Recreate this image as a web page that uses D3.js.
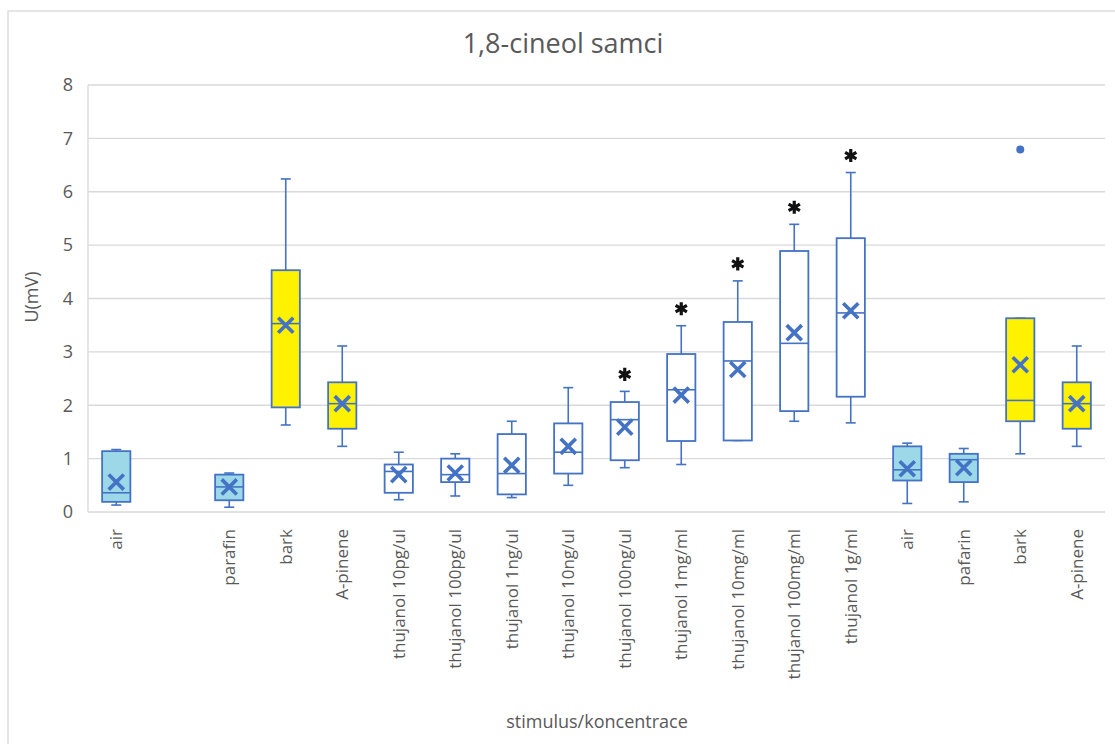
<!DOCTYPE html>
<html><head><meta charset="utf-8">
<script src="https://cdn.jsdelivr.net/npm/d3@7"></script>
<style>body{margin:0;background:#fff} svg{display:block}</style>
</head><body><svg id="chart" width="1115" height="744"></svg>
<script>
// ---- data ----
const titleText = "1,8-cineol samci";
const yAxisTitle = "U(mV)";
const xAxisTitle = "stimulus/koncentrace";
const categories = ["air", "", "parafin", "bark", "A-pinene",
  "thujanol 10pg/ul", "thujanol 100pg/ul", "thujanol 1ng/ul", "thujanol 10ng/ul", "thujanol 100ng/ul",
  "thujanol 1mg/ml", "thujanol 10mg/ml", "thujanol 100mg/ml", "thujanol 1g/ml",
  "air", "pafarin", "bark", "A-pinene"];
const groupType = ["control", "none", "control", "positive", "positive",
  "test", "test", "test", "test", "test", "test", "test", "test", "test",
  "control", "control", "positive", "positive"];
const whiskerLow  = [0.13, null, 0.09, 1.63, 1.23, 0.23, 0.30, 0.27, 0.50, 0.83, 0.89, 1.34, 1.70, 1.67, 0.16, 0.19, 1.09, 1.23];
const q1          = [0.19, null, 0.22, 1.96, 1.56, 0.36, 0.56, 0.33, 0.72, 0.97, 1.33, 1.34, 1.89, 2.16, 0.59, 0.56, 1.70, 1.56];
const median      = [0.36, null, 0.47, 3.53, 2.03, 0.76, 0.70, 0.72, 1.12, 1.73, 2.29, 2.83, 3.16, 3.73, 0.79, 0.98, 2.09, 2.03];
const q3          = [1.14, null, 0.70, 4.53, 2.43, 0.89, 1.00, 1.46, 1.66, 2.06, 2.96, 3.56, 4.89, 5.13, 1.23, 1.09, 3.63, 2.43];
const whiskerHigh = [1.17, null, 0.73, 6.24, 3.11, 1.12, 1.09, 1.70, 2.33, 2.26, 3.49, 4.33, 5.39, 6.36, 1.29, 1.19, 3.63, 3.11];
const mean        = [0.56, null, 0.47, 3.50, 2.03, 0.70, 0.73, 0.875, 1.23, 1.59, 2.19, 2.67, 3.36, 3.77, 0.81, 0.83, 2.76, 2.03];
const outliers    = [[], [], [], [], [], [], [], [], [], [], [], [], [], [], [], [], [6.79], []];
const significant = [false, false, false, false, false, false, false, false, false, true, true, true, true, true, false, false, false, false];
const yTicks = [0, 1, 2, 3, 4, 5, 6, 7, 8];

// ---- styles ----
const fillFor = {control: "#9dd8e9", positive: "#fff200", test: "#ffffff", none: "none"};
const blue = "#4472c4";
const textColor = "#595959";
const gridColor = "#d9d9d9";
const font = "'Open Sans', 'Liberation Sans', sans-serif";

const svg = d3.select("#chart");
const L = 88, R = 1105, T = 85, B = 512;

const rows = categories.map((c, i) => ({
  i, label: c, type: groupType[i], lo: whiskerLow[i], q1: q1[i], med: median[i],
  q3: q3[i], hi: whiskerHigh[i], mean: mean[i], out: outliers[i], sig: significant[i]
}));

const x = d3.scaleBand().domain(d3.range(categories.length)).range([L, R])
  .paddingInner(0.5).paddingOuter(0.25);
const y = d3.scaleLinear().domain([0, 8]).range([B, T]);

// chart border
svg.append("rect").attr("x", 8).attr("y", 11).attr("width", 1130).attr("height", 760)
  .attr("fill", "none").attr("stroke", gridColor).attr("stroke-width", 1.3);

// gridlines
svg.append("g").selectAll("line").data(yTicks).join("line")
  .attr("x1", L).attr("x2", R).attr("y1", d => y(d)).attr("y2", d => y(d))
  .attr("stroke", gridColor).attr("stroke-width", 1.3);
svg.append("line").attr("x1", L).attr("x2", L).attr("y1", y(8)).attr("y2", y(0))
  .attr("stroke", gridColor).attr("stroke-width", 1.3);

// y axis
const yAxis = svg.append("g").attr("transform", `translate(${L},0)`)
  .call(d3.axisLeft(y).tickValues(yTicks).tickSize(0).tickPadding(15));
yAxis.select(".domain").remove();
yAxis.selectAll("text").attr("fill", textColor).style("font-family", font).style("font-size", "18px");

// x axis
const xAxis = svg.append("g").attr("transform", `translate(0,${B})`)
  .call(d3.axisBottom(x).tickSize(0).tickFormat(i => categories[i]));
xAxis.select(".domain").remove();
xAxis.selectAll("text")
  .attr("transform", "rotate(-90)").attr("x", -17).attr("y", 0).attr("dy", "0.35em")
  .style("text-anchor", "end").attr("fill", textColor)
  .style("font-family", font).style("font-size", "17px");

// boxes
const data = rows.filter(d => d.type !== "none");
const cx = d => x(d.i) + x.bandwidth() / 2;
const bw = x.bandwidth();
const capW = 10;
const g = svg.append("g");
const box = g.selectAll("g.box").data(data).join("g").attr("class", "box");

box.append("line").attr("x1", cx).attr("x2", cx).attr("y1", d => y(d.hi)).attr("y2", d => y(d.lo))
  .attr("stroke", blue).attr("stroke-width", 1.6);
box.append("line").attr("x1", d => cx(d) - capW / 2).attr("x2", d => cx(d) + capW / 2)
  .attr("y1", d => y(d.hi)).attr("y2", d => y(d.hi)).attr("stroke", blue).attr("stroke-width", 1.6);
box.append("line").attr("x1", d => cx(d) - capW / 2).attr("x2", d => cx(d) + capW / 2)
  .attr("y1", d => y(d.lo)).attr("y2", d => y(d.lo)).attr("stroke", blue).attr("stroke-width", 1.6);
box.append("rect").attr("x", d => x(d.i)).attr("width", bw)
  .attr("y", d => y(d.q3)).attr("height", d => y(d.q1) - y(d.q3))
  .attr("fill", d => fillFor[d.type]).attr("stroke", blue).attr("stroke-width", 1.8);
box.append("line").attr("x1", d => x(d.i)).attr("x2", d => x(d.i) + bw)
  .attr("y1", d => y(d.med)).attr("y2", d => y(d.med)).attr("stroke", blue).attr("stroke-width", 1.6);

// mean markers
const timesType = d3.symbolTimes || d3.symbolCross;
box.append("path")
  .attr("transform", d => `translate(${cx(d)},${y(d.mean)})` + (d3.symbolTimes ? "" : " rotate(45)"))
  .attr("d", d3.symbol().type(timesType).size(d3.symbolTimes ? 150 : 90))
  .attr("fill", d3.symbolTimes ? "none" : blue)
  .attr("stroke", blue).attr("stroke-width", d3.symbolTimes ? 3.6 : 0);

// outliers
box.selectAll("circle").data(d => d.out.map(v => ({d, v}))).join("circle")
  .attr("cx", o => cx(o.d)).attr("cy", o => y(o.v)).attr("r", 4).attr("fill", blue);

// significance asterisks
const starType = d3.symbolAsterisk || d3.symbolCross;
g.selectAll("path.star").data(data.filter(d => d.sig)).join("path").attr("class", "star")
  .attr("transform", d => `translate(${cx(d)},${y(d.hi) - 17})`)
  .attr("d", d3.symbol().type(starType).size(120))
  .attr("fill", d3.symbolAsterisk ? "none" : "#111")
  .attr("stroke", "#111").attr("stroke-width", d3.symbolAsterisk ? 3.2 : 0);

// titles
svg.append("text").attr("x", 563).attr("y", 53).attr("text-anchor", "middle")
  .attr("fill", textColor).style("font-family", font).style("font-size", "27px").text(titleText);
svg.append("text").attr("transform", "translate(38,297) rotate(-90)").attr("text-anchor", "middle")
  .attr("fill", textColor).style("font-family", font).style("font-size", "18px").text(yAxisTitle);
svg.append("text").attr("x", 597).attr("y", 728).attr("text-anchor", "middle")
  .attr("fill", textColor).style("font-family", font).style("font-size", "18px").text(xAxisTitle);
</script>
</body></html>
